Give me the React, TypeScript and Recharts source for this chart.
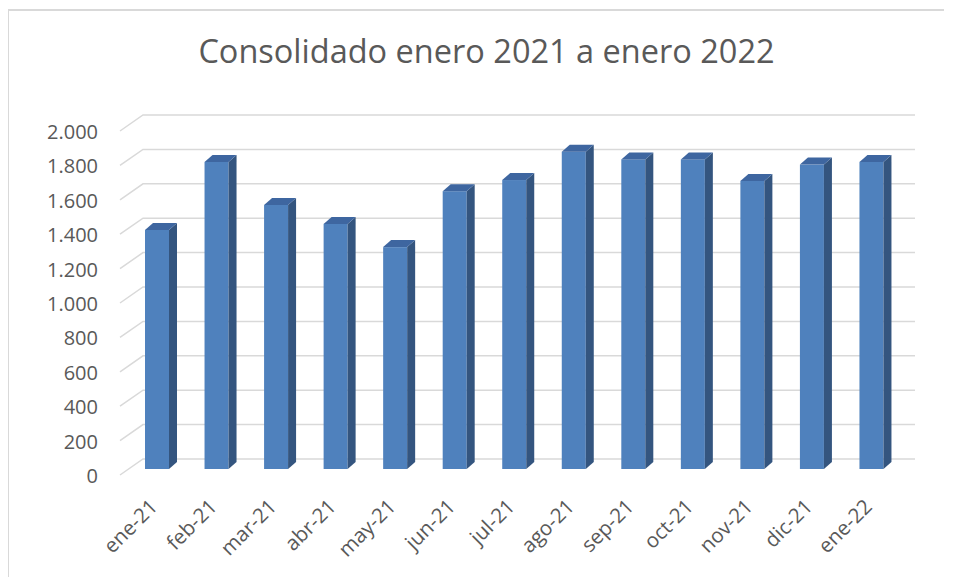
import React from 'react';
import { BarChart, Bar, XAxis, YAxis, CartesianGrid } from 'recharts';

const months = ['ene-21', 'feb-21', 'mar-21', 'abr-21', 'may-21', 'jun-21', 'jul-21', 'ago-21', 'sep-21', 'oct-21', 'nov-21', 'dic-21', 'ene-22'];
const values = [1390, 1785, 1535, 1425, 1290, 1615, 1680, 1845, 1800, 1800, 1675, 1770, 1785];
const yTicks = [0, 200, 400, 600, 800, 1000, 1200, 1400, 1600, 1800, 2000];
const title = 'Consolidado enero 2021 a enero 2022';

const data = months.map((m, i) => ({ month: m, value: values[i] }));

const FONT = '"Open Sans", "Noto Sans", sans-serif';
const TEXT = '#595959';
const GRID = '#d9d9d9';
const DEPTH_X = 8;
const DEPTH_Y = 7;

const fmt = (v: number) => v.toString().replace(/\B(?=(\d{3})+(?!\d))/g, '.');

const Bar3D = (props: any) => {
  const { x, y, width, height } = props;
  if (height == null || width == null) return null;
  const fw = width - DEPTH_X;
  const b = y + height;
  return (
    <g>
      <rect x={x} y={y} width={fw} height={height} fill="#4F81BD" />
      <polygon
        points={`${x + fw},${y} ${x + width},${y - DEPTH_Y} ${x + width},${b - DEPTH_Y} ${x + fw},${b}`}
        fill="#34557F"
      />
      <polygon
        points={`${x},${y} ${x + DEPTH_X},${y - DEPTH_Y} ${x + width},${y - DEPTH_Y} ${x + fw},${y}`}
        fill="#3E66A0"
      />
    </g>
  );
};

const gridLine = (props: any) => {
  const { x1, x2, y1, key, index } = props;
  const d = `M${x1 - 11},${y1 + 6} L${x1 + 12},${y1 - 10} L${x2 + 10},${y1 - 10}`;
  return <path key={key ?? `g-${index}-${y1}`} d={d} stroke={GRID} strokeWidth={1.5} fill="none" />;
};

const YTick = (props: any) => {
  const { x, y, payload } = props;
  return (
    <text x={x - 25} y={y + 7} dy="0.35em" textAnchor="end" fill={TEXT} fontSize={20} fontFamily={FONT}>
      {fmt(payload.value)}
    </text>
  );
};

const XTick = (props: any) => {
  const { x, y, payload } = props;
  const ax = x - 2;
  const ay = y + 31;
  return (
    <text
      x={ax}
      y={ay}
      textAnchor="end"
      fill={TEXT}
      fontSize={20.5}
      fontFamily={FONT}
      transform={`rotate(-45, ${ax}, ${ay})`}
    >
      {payload.value}
    </text>
  );
};

export default function App() {
  return (
    <div
      style={{
        position: 'relative',
        width: 938,
        height: 569,
        background: '#fff',
      }}
    >
      <div
        style={{
          position: 'absolute',
          left: -1,
          top: 1,
          width: 2,
          height: 570,
          background: GRID,
        }}
      />
      <div
        style={{
          position: 'absolute',
          left: -1,
          top: 1,
          width: 937,
          height: 2,
          background: GRID,
        }}
      />
      <div
        style={{
          position: 'absolute',
          left: 0,
          width: 957,
          top: 21,
          textAlign: 'center',
          fontFamily: FONT,
          fontSize: 32.5,
          color: TEXT,
          lineHeight: '44px',
          whiteSpace: 'nowrap',
        }}
      >
        {title}
      </div>
      <BarChart
        width={938}
        height={569}
        data={data}
        margin={{ top: 117, right: 41, left: 63, bottom: 0 }}
        barSize={32}
      >
        <CartesianGrid vertical={false} horizontal={gridLine} />
        <XAxis
          dataKey="month"
          axisLine={false}
          tickLine={false}
          interval={0}
          height={108}
          tick={<XTick />}
        />
        <YAxis
          domain={[0, 2000]}
          ticks={yTicks}
          width={60}
          axisLine={false}
          tickLine={false}
          tick={<YTick />}
          interval={0}
        />
        <Bar dataKey="value" shape={<Bar3D />} isAnimationActive={false} />
      </BarChart>
    </div>
  );
}
